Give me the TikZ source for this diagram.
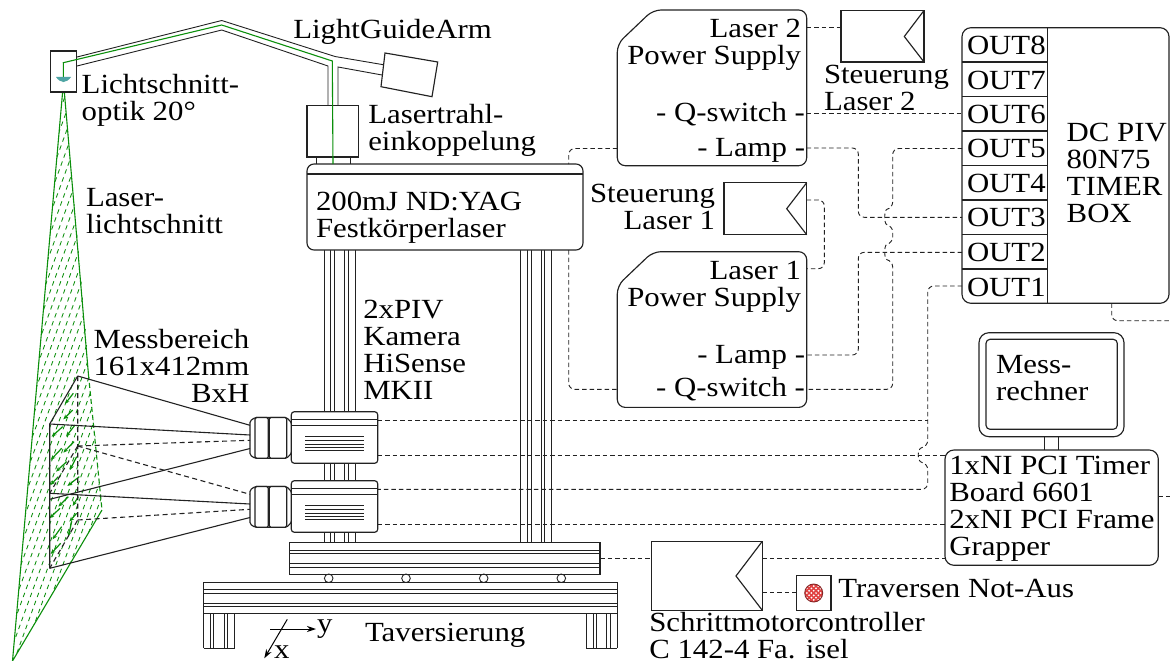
\documentclass[tikz,border=0pt]{standalone}
\usepackage{fontspec}
\setmainfont{Liberation Serif}
\usetikzlibrary{arrows.meta,calc}
\definecolor{sheetgreen}{HTML}{0B8F0B}
\definecolor{lensteal}{HTML}{4FA5A5}
\definecolor{darkline}{HTML}{222222}
\definecolor{stopred}{HTML}{E04040}

\begin{document}
\begin{tikzpicture}[
    x=1pt, y=-1pt,
    every node/.style={font=\fontsize{30.8}{30}\selectfont, inner sep=0pt, outer sep=0pt},
    lbl/.style={anchor=base west, align=left, black, yscale=0.9},
    lblr/.style={anchor=base east, align=right, black, yscale=0.9},
    part/.style={draw=darkline, line width=1.15pt},
    thin part/.style={draw=darkline, line width=0.9pt},
    box/.style={part, fill=white, rectangle, anchor=north west},
    rbox/.style={box, rounded corners=7pt},
    signal/.style={draw=darkline, line width=0.9pt, dash pattern=on 4.5pt off 3pt, rounded corners=6pt},
    view/.style={draw=darkline, line width=1.1pt},
    dashview/.style={view, dash pattern=on 5pt off 3.5pt},
    beam/.style={draw=sheetgreen, line width=1.1pt},
    vecarrow/.style={draw=sheetgreen, line width=1.2pt, -{Stealth[length=5pt,width=4pt]}},
    axisarrow/.style={draw=black, line width=1pt, -{Stealth[length=9pt,width=6pt]}},
]
\useasboundingbox (0,0) rectangle (1170,661);

% --- Light sheet hatching ---
\begin{scope}
  \clip (63.5,82) -- (12.5,661) -- (102,510) -- cycle;
  \foreach \i in {-40,...,26} {
    \draw[sheetgreen, line width=0.85pt, dash pattern=on 4.5pt off 4pt] ({\i*7},661) -- ({\i*7+240},0);
  }
\end{scope}
\draw[beam] (88.5,375) -- (63.5,82) -- (12.5,661) -- (102,510);
\draw[beam, dash pattern=on 5pt off 3pt] (88.5,375) -- (102,510);

% --- Velocity vectors ---
\begin{scope}[xshift=30pt, yshift=-380pt, x=0.3333pt, y=-0.3333pt]
  \foreach \ax/\ay/\bx/\by in {130/40/105/72, 128/90/100/118, 98/140/65/170, 135/135/108/170,
      132/185/100/218, 95/205/62/240, 110/245/78/275, 140/230/120/270, 85/290/62/315,
      148/290/112/318, 115/350/85/380, 145/350/128/378, 90/385/58/415, 140/400/118/425,
      125/425/115/470, 95/440/68/478, 92/490/62/522} {
    \draw[vecarrow] (\ax,\ay) -- (\bx,\by);
  }
\end{scope}

% --- Measuring volume ---
\coordinate (volfronttop) at (49.7,424);
\coordinate (volfrontmid) at (49.7,493.3);
\coordinate (volfrontlow) at (49.7,499.3);
\coordinate (volfrontbot) at (49.7,568.3);
\coordinate (volbacktop) at (77.7,376);
\coordinate (volbackmid) at (77.7,446);
\coordinate (volbackbot) at (77.7,520);
\draw[view] (volbacktop) -- (volfronttop) -- (volfrontbot);
\draw[dashview] (volbacktop) -- (volbackbot) -- (volfrontbot);
\draw[dashview] (volbackmid) -- (volfrontmid);

% --- Columns ---
\foreach \px in {324,330,334.3,344.3,348.7,355.3,520.7,527.3,531.7,541,544.3,551.7} {
  \draw[thin part] (\px,250) -- (\px,543);
}

% --- Cameras ---
\foreach \cam/\camy in {upper/0,lower/69} {
  \begin{scope}[yshift=-\camy pt]
    \path[part, fill=white, rounded corners=1.5pt] (250,421) -- (255,417.5) -- (286.7,417.5) -- (291.7,423)
      -- (291.7,453) -- (286.7,458.3) -- (255,458.3) -- (250,455) -- cycle;
    \draw[part, fill=white, rounded corners=1.5pt] (255,417.5) rectangle (268.3,458.3);
    \draw[part, fill=white, rounded corners=1.5pt] (269.3,417.5) rectangle (286.7,458.3);
    \node[box, rounded corners=3pt, minimum width=86.4pt, minimum height=51.6pt] (cam\cam) at (291.3,411.7) {};
    \draw[part] (291.3,419.3) -- (377.7,419.3);
    \draw[part] (291.3,425.7) -- (377.7,425.7);
    \foreach \ly in {436,440,444,447.3,450.7} {
      \draw[thin part] (305,\ly) -- (364.3,\ly);
    }
    \coordinate (lens\cam a) at (250,425.3);
    \coordinate (lens\cam b) at (250,435);
    \coordinate (lens\cam c) at (250,440.3);
    \coordinate (lens\cam d) at (250,448.5);
    \coordinate (\cam sig) at (377.7,420.3);
    \coordinate (\cam trig) at (377.7,455);
  \end{scope}
}

% --- Views to the cameras ---
\draw[view] (volbacktop) -- (lensuppera);
\draw[view] (volfronttop) -- (lensupperb);
\draw[dashview] (volbackmid) -- (lensupperc);
\draw[view] (volfrontlow) -- (lensupperd);
\draw[dashview] (volbackmid) -- (lenslowera);
\draw[view] (volfrontmid) -- (lenslowerb);
\draw[dashview] (volbackbot) -- (lenslowerc);
\draw[view] (volfrontbot) -- (lenslowerd);

% --- Traverse ---
\node[box, minimum width=310.7pt, minimum height=31.6pt] (carriage) at (289.3,542.7) {};
\foreach \ly in {550,553.3,563.3,567.3} {
  \draw[thin part] (289.3,\ly) -- (600,\ly);
}
\foreach \wx in {328.7,406,483.7,561.3} {
  \draw[thin part] (\wx,578.3) circle (4.3);
}
\node[box, minimum width=413.8pt, minimum height=31.4pt] (rail) at (203.5,582.3) {};
\foreach \ly in {589.3,593.3,603.3,606.7} {
  \draw[thin part] (203.5,\ly) -- (617.3,\ly);
}
\foreach \lx in {203.5,210.7,213.3,224,227.3,234.7,586,593.3,596.7,606.7,610.7,617.3} {
  \draw[thin part] (\lx,613.7) -- (\lx,648.3);
}
\draw[thin part] (203.5,648.3) -- (234.7,648.3);
\draw[thin part] (586,648.3) -- (617.3,648.3);

% --- Axes ---
\coordinate (ytail) at (270,629);
\coordinate (yhead) at (316,629);
\coordinate (xtail) at (287.3,619.3);
\coordinate (xhead) at (264.3,658.3);
\draw[axisarrow] (ytail) -- (yhead);
\draw[axisarrow] (xtail) -- (xhead);
\node[lbl] (ylabel) at (317,632) {y};
\node[lbl] (xlabel) at (274,658) {x};

% --- Laser and light guide arm ---
\node[rbox, minimum width=276pt, minimum height=86pt] (laser) at (307,164) {};
\draw[part] (307,174) -- (583,174);
\node[box, minimum width=51.7pt, minimum height=51.5pt] (coupler) at (307,105.5) {};
\draw[thin part] (316,157) -- (316,164);
\draw[thin part] (350,157) -- (350,164);
\node[box, minimum width=26pt, minimum height=41pt] (optics) at (50.5,51) {};
\draw[thin part] (77,57) -- (221.7,20.5) -- (335,56.5) -- (385,65);
\draw[thin part] (77,66) -- (221.7,30) -- (328,66) -- (328,105.5);
\draw[thin part] (382,75) -- (338,67) -- (338,105.5);
\draw[part, fill=white] (385,53) -- (437.7,62) -- (432,96.7) -- (381,86.7) -- cycle;
\draw[beam] (333,164) -- (332.3,61) -- (221.7,25) -- (63.3,62.7) -- (63.5,82);
\fill[lensteal] (56,77) -- (71,77) .. controls (69,80) and (66,82) .. (63.5,82) .. controls (61,82) and (58,80) .. (56,77) -- cycle;

% --- Power supplies ---
\foreach \psu/\psuy in {two/0,one/241.7} {
  \begin{scope}[yshift=-\psuy pt]
    \draw[part, rounded corners=8pt] (617.3,165.7) -- (617.3,44) -- (653,10) -- (806.7,10) -- (806.7,165.7) -- cycle;
  \end{scope}
}

% --- Control boxes ---
\node[box, minimum width=83pt, minimum height=51.5pt] (steuerzwei) at (841,10.5) {};
\draw[part] (steuerzwei.north east) -- (904.3,36.5) -- (steuerzwei.south east);
\node[box, minimum width=82.7pt, minimum height=52pt] (steuereins) at (724,182.7) {};
\draw[part] (steuereins.north east) -- (786.7,208.7) -- (steuereins.south east);
\node[box, minimum width=111pt, minimum height=69pt] (motor) at (651.3,541.3) {};
\draw[part] (motor.north east) -- (736,576) -- (motor.south east);
\node[box, minimum width=34.3pt, minimum height=35pt] (notaus) at (796.7,575.3) {};
\begin{scope}
  \clip (813.7,593) circle (9);
  \foreach \i in {-3,...,3} {
    \draw[stopred, line width=1.5pt] ({813.7+\i*4.6-12},581) -- ({813.7+\i*4.6+12},605);
    \draw[stopred, line width=1.5pt] ({813.7+\i*4.6+12},581) -- ({813.7+\i*4.6-12},605);
  }
\end{scope}
\draw[draw=stopred!60!black, line width=0.9pt] (813.7,593) circle (9);

% --- Timer box ---
\node[rbox, rounded corners=9pt, minimum width=207pt, minimum height=275.6pt] (timer) at (962,27.7) {};
\draw[part] (1047.7,27.7) -- (1047.7,303.3);
\foreach \ly in {62,96.7,131,165.7,200,234.7,269} {
  \draw[part] (962,\ly) -- (1047.7,\ly);
}
\foreach \n/\ly in {8/54.3,7/89,6/123.3,5/157.5,4/192.7,3/226.7,2/261.7,1/296} {
  \node[lbl] (out\n) at (967,\ly) {OUT\n};
}

% --- Computer ---
\node[box, rounded corners=10pt, minimum width=145pt, minimum height=104pt] (monitor) at (979,332.7) {};
\node[box, rounded corners=4pt, minimum width=131.3pt, minimum height=90pt] (screen) at (986,339.3) {};
\draw[part] (1044.3,436.7) -- (1044.3,450);
\draw[part] (1058.3,436.7) -- (1058.3,450);
\node[rbox, rounded corners=9pt, minimum width=213.3pt, minimum height=115.3pt] (board) at (945,450) {};

% --- Signal ports ---
\coordinate (portsteuerzwei) at (806.7,27.7);
\coordinate (portqzwei) at (806.7,113.5);
\coordinate (portlampzwei) at (806.7,148);
\coordinate (portlampleft) at (617.3,148.5);
\coordinate (portqleft) at (617.3,389.3);
\coordinate (portlampeins) at (806.7,355);
\coordinate (portqeins) at (806.7,389.3);
\coordinate (bendlampzwei) at (858.3,217.3);
\coordinate (bendlampeins) at (858.3,252.3);
\coordinate (bendleft) at (568.7,148.5);
\coordinate (portsix) at (962,113.5);
\coordinate (portfive) at (962,148.5);
\coordinate (portthree) at (962,217.3);
\coordinate (porttwo) at (962,252.3);
\coordinate (portone) at (962,286);
\coordinate (boardtrigupper) at (945,455);
\coordinate (boardtriglower) at (945,524);
\coordinate (boardmotor) at (945,558.7);

% --- Signals ---
\draw[signal] (portsteuerzwei) -- (steuerzwei.west |- portsteuerzwei);
\draw[signal] (portqzwei) -- (portsix);
\draw[signal] (portlampzwei) -| (bendlampzwei) -- (portthree);
\draw[signal] (porttwo) -- (bendlampeins) |- (portlampeins);
\draw[signal] (portlampleft) -- (bendleft) -- (568.7,164);
\draw[signal] (568.7,250) -- (568.7,389.3) -- (portqleft);
\draw[signal] (806.7,200) -- (824.3,200) -- (824.3,268.7) -- (806.7,268.7);
\draw[signal] (portfive) -- (892.7,148.5) -- (892.7,208) .. controls (884,210) and (884,224) .. (892.7,226)
  -- (892.7,243) .. controls (884,245) and (884,259) .. (892.7,261) -- (892.7,389.3) -- (portqeins);
\draw[signal] (portone) -- (927.7,286) -- (927.7,446.5) .. controls (917,448.5) and (917,461.5) .. (927.7,463.5)
  -- (927.7,489.3) -- (uppersig |- 0,489.3);
\draw[signal] (uppersig) -- (927.7,420.3);
\draw[signal] (uppertrig) -- (boardtrigupper);
\draw[signal] (lowertrig) -- (boardtriglower);
\draw[signal] (carriage.east) -- (motor.west |- carriage.east);
\draw[signal] (motor.east |- boardmotor) -- (boardmotor);
\draw[signal] (motor.east |- notaus.east) -- (notaus.west);
\draw[signal] (1111.7,303.3) -- (1111.7,320.7) -- (1170,320.7);
\draw[signal] (board.east |- 0,496) -- (1170,496);

% --- Labels ---
\node[lbl] (guidelabel) at (293.3,38.3) {LightGuideArm};
\node[lbl] (opticslabel) at (81.7,120.7) {Lichtschnitt-\\optik 20°};
\node[lbl] (couplerlabel) at (368.3,150) {Lasertrahl-\\einkoppelung};
\node[lbl] (sheetlabel) at (86,233.3) {Laser-\\lichtschnitt};
\node[lblr] (arealabel) at (249.3,402.7) {Messbereich\\161x412mm\\BxH};
\node[lbl] (laserlabel) at (316,237) {200mJ ND:YAG\\Festkörperlaser};
\node[lbl] (camlabel) at (363.3,399.3) {2xPIV\\Kamera\\HiSense\\MKII};
\node[lbl] (travlabel) at (365,641.7) {Taversierung};
\node[lblr] (powertwo) at (801,65) {Laser 2\\Power Supply};
\node[lblr] (qtwo) at (805,121.7) {- Q-switch -};
\node[lblr] (lamptwo) at (805,156.7) {- Lamp -};
\node[lblr] (powerone) at (801,306.7) {Laser 1\\Power Supply};
\node[lblr] (lampone) at (805,363.3) {- Lamp -};
\node[lblr] (qone) at (805,396.7) {- Q-switch -};
\node[lbl] (steuerzweilabel) at (824,110.7) {Steuerung\\Laser 2};
\node[lblr] (steuereinslabel) at (715,229.3) {Steuerung\\Laser 1};
\node[lbl] (timerlabel) at (1066.7,222.7) {DC PIV\\80N75\\TIMER\\BOX};
\node[lbl] (monitorlabel) at (996,400.7) {Mess-\\rechner};
\node[lbl] (boardlabel) at (949.3,555) {1xNI PCI Timer\\Board 6601\\2xNI PCI Frame\\Grapper};
\node[lbl] (notauslabel) at (838.3,597.7) {Traversen Not-Aus};
\node[lbl] (motorlabel) at (649.3,658.3) {Schrittmotorcontroller\\C 142-4 Fa. isel};

\end{tikzpicture}
\end{document}
